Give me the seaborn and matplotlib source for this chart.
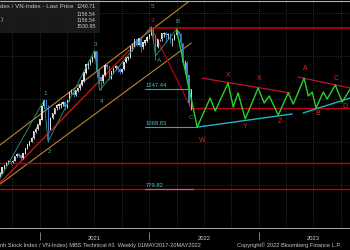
import numpy as np
import pandas as pd
import matplotlib
matplotlib.use("Agg")
import matplotlib.pyplot as plt
import matplotlib.dates as mdates
import matplotlib.transforms as mtransforms
from matplotlib.patches import Rectangle
import seaborn as sns

# ---------------- data ----------------
week_start = "2020-08-21"
week_end = "2022-05-20"
first_open = 845
close = [852, 880, 892, 902, 909, 905, 911, 935, 944, 936, 925, 946, 968, 987, 1002, 1018,
         1047, 1060, 1081, 1103, 1167, 1193, 1167, 1056, 1111, 1131, 1158, 1169, 1173, 1175,
         1186, 1161, 1191, 1231, 1232, 1218, 1239, 1250, 1263, 1285, 1321, 1359, 1364, 1381,
         1391, 1420, 1329, 1299, 1283, 1310, 1358, 1349, 1294, 1328, 1342, 1353, 1337, 1326,
         1337, 1370, 1392, 1392, 1444, 1445, 1476, 1452, 1482, 1443, 1462, 1471, 1488, 1498,
         1528, 1497, 1441, 1478, 1478, 1503, 1506, 1499, 1502, 1473, 1478, 1497, 1515, 1500,
         1459, 1366, 1366, 1310, 1182, 1240.71]
high = [860, 884, 895, 906, 914, 912, 915, 937, 948, 948, 940, 948, 970, 990, 1005, 1022,
        1050, 1068, 1084, 1106, 1170, 1195, 1191, 1170, 1115, 1135, 1160, 1175, 1180, 1185,
        1192, 1190, 1194, 1234, 1245, 1240, 1242, 1255, 1268, 1290, 1325, 1362, 1375, 1386,
        1398, 1425, 1422, 1340, 1300, 1315, 1362, 1370, 1350, 1332, 1345, 1360, 1355, 1345,
        1340, 1372, 1396, 1400, 1447, 1458, 1480, 1480, 1484, 1490, 1465, 1476, 1492, 1501,
        1536, 1530, 1500, 1480, 1480, 1506, 1512, 1510, 1505, 1505, 1482, 1500, 1524, 1518,
        1505, 1462, 1380, 1375, 1310, 1245]
low = [838, 850, 876, 886, 897, 898, 900, 910, 930, 930, 918, 922, 945, 965, 980, 998,
       1015, 1040, 1055, 1078, 1100, 1160, 1150, 1001, 1060, 1105, 1128, 1150, 1155, 1160,
       1168, 1150, 1160, 1190, 1222, 1210, 1215, 1232, 1240, 1258, 1280, 1318, 1340, 1360,
       1370, 1385, 1300, 1270, 1240, 1275, 1308, 1340, 1290, 1292, 1320, 1335, 1325, 1315,
       1320, 1335, 1368, 1380, 1390, 1425, 1440, 1445, 1450, 1420, 1430, 1450, 1465, 1480,
       1495, 1470, 1380, 1435, 1470, 1470, 1490, 1465, 1480, 1460, 1445, 1475, 1492, 1495,
       1440, 1360, 1330, 1300, 1170, 1150]

# projected wave path (B -> W X Y X Z A B C ...)
proj_dates = ["2022-04-01", "2022-06-09", "2022-07-22", "2022-08-08", "2022-09-20", "2022-10-07",
              "2022-10-23", "2022-11-16", "2022-12-29", "2023-01-18", "2023-02-04", "2023-03-06",
              "2023-04-08", "2023-04-25", "2023-05-31", "2023-06-14", "2023-06-27", "2023-07-10",
              "2023-08-03", "2023-08-16", "2023-09-12", "2023-10-05", "2023-11-07"]
proj_vals = [1524, 1068.83, 1204, 1144, 1274, 1162, 1228, 1107, 1251, 1181, 1214, 1125,
             1228, 1176, 1297, 1214, 1232, 1158, 1232, 1200, 1265, 1186, 1260]

# Elliott impulse pivots 0-1-2-3-4-5-A-B
wave_dates = ["2020-08-21", "2021-01-15", "2021-01-28", "2021-07-02", "2021-07-19",
              "2022-01-07", "2022-01-21", "2022-04-01"]
wave_vals = [830, 1195, 1001, 1425, 1240, 1536, 1400, 1524]

# wave label positions
wave_labels = ["1", "2", "3", "4", "5", "A", "B", "C"]
wave_label_dates = ["2021-01-20", "2021-01-31", "2021-07-06", "2021-07-27", "2022-01-10",
                    "2022-02-01", "2022-04-05", "2022-05-18"]
wave_label_vals = [1225, 955, 1455, 1188, 1628, 1381, 1558, 1116]

levels_teal = [1247.44, 1068.83, 779.82]
levels_red_full = [900, 779.82]
level_top = 1530.95
level_mid = 1156.54

legend_vals = ["1240.71", "1156.54", "1156.54", "1530.95"]
years = ["2021", "2022", "2023"]

red_labels = ["W", "X", "Y", "X", "Z", "A", "B", "C", "D"]
red_dates = ["2022-06-25", "2022-09-20", "2022-11-16", "2023-01-01", "2023-03-10",
             "2023-06-03", "2023-07-15", "2023-09-15", "2023-10-15"]
red_vals = [1009, 1307, 1070, 1293, 1093, 1340, 1130, 1293, 1163]

# ---------------- figure ----------------
sns.set_theme(style="dark")
plt.rcParams["font.family"] = ["Liberation Sans", "DejaVu Sans"]
fig = plt.figure(figsize=(3.5, 2.5), dpi=100, facecolor="black")
ax = fig.add_axes([0, 22 / 250, 1, 228 / 250])
ax.set_facecolor("black")

t0, t1 = pd.Timestamp("2020-08-21"), pd.Timestamp("2023-10-31")
ax.set_xlim(t0, t1)
ax.set_ylim(600, 1660)

# grid
for yv in [800, 1000, 1200, 1400, 1600]:
    ax.axhline(yv, color="#3a3a3a", lw=0.6, ls=(0, (1, 1.5)), zorder=0)
for q in pd.date_range("2020-10-01", "2023-10-01", freq="QS"):
    ax.axvline(q, color="#3a3a3a", lw=0.6, ls=(0, (1, 1.5)), zorder=0)

# candles
weeks = pd.date_range(week_start, week_end, freq="W-FRI")
opens = [first_open] + close[:-1]
df = pd.DataFrame({"date": weeks, "open": opens, "close": close, "high": high, "low": low})
up = df["close"] >= df["open"]
cols = np.where(up, "#dcdcdc", "#3a7fd5")
ax.vlines(df["date"], df["low"], df["high"], colors=cols, lw=0.6, zorder=3)
bottoms = np.minimum(df["open"], df["close"])
heights = np.abs(df["close"] - df["open"]) + 2
ax.bar(df["date"], heights, bottom=bottoms, width=4.5, color=cols, lw=0, zorder=3)


def d(s):
    return pd.Timestamp(s)


# channel lines (orange)
ax.plot([d("2020-08-21"), d("2022-05-10")], [986, 1651], color="#b8862b", lw=0.8, zorder=2)
ax.plot([d("2020-08-21"), d("2022-05-20")], [804, 1460], color="#b8862b", lw=0.8, zorder=2)

# red main trend line
ax.plot([d("2020-08-21"), d("2022-01-07")], [810, 1530.95], color="#d01010", lw=1.0, zorder=2)

# elliott lines
wd = [d(s) for s in wave_dates]
ax.plot(wd, wave_vals, color="#2a9a80", lw=0.6, zorder=4)

# horizontal levels
for v in levels_red_full:
    ax.axhline(v, color="#c00010", lw=1.0, zorder=2)
ax.plot([d("2022-01-07"), t1], [level_top, level_top], color="#c00010", lw=1.2, zorder=2)
ax.plot([d("2022-01-07"), d("2022-05-20")], [level_top, level_mid], color="#a00010", lw=1.0, zorder=2)
ax.plot([d("2022-05-20"), t1], [level_mid, level_mid], color="#c00010", lw=1.0, zorder=2)
ax.plot([d("2021-12-17"), d("2022-05-20")], [1247.44, 1247.44], color="#2fa8a8", lw=0.8, zorder=2)
ax.plot([d("2021-12-17"), d("2022-06-09")], [1068.83, 1068.83], color="#2fa8a8", lw=0.8, zorder=2)
ax.plot([d("2021-12-17"), d("2022-05-25")], [779.82, 779.82], color="#2fa8a8", lw=0.8, zorder=2)
for v in levels_teal:
    ax.text(d("2021-12-19"), v + 4, f"{v:.2f}", color="#40c4c4", fontsize=4.2,
            ha="left", va="bottom", zorder=6)

# triangle lines
ax.plot([d("2022-06-25"), d("2023-04-15")], [1297, 1228], color="#c01030", lw=0.9, zorder=4)
ax.plot([d("2023-05-11"), t1], [1302, 1251], color="#c01030", lw=0.9, zorder=4)
ax.plot([d("2022-06-09"), d("2023-04-21")], [1068.83, 1130], color="#20b4c8", lw=1.0, zorder=4)
ax.plot([d("2023-05-28"), t1], [1135, 1204], color="#20b4c8", lw=1.0, zorder=4)

# projection
pdts = [d(s) for s in proj_dates]
sns.lineplot(x=pdts, y=proj_vals, ax=ax, color="#2ad02a", lw=1.0, estimator=None, sort=False, zorder=5)

# wave labels
for n, dt, v in zip(wave_labels, wave_label_dates, wave_label_vals):
    ax.text(d(dt), v, n, color="#3aa88c", fontsize=4.5, ha="center", va="center", zorder=6)
ax.text(d("2022-01-10"), 1565, "3", color="#d02020", fontsize=4.5, ha="center", va="center", zorder=6)

for n, dt, v in zip(red_labels, red_dates, red_vals):
    ax.text(d(dt), v, n, color="#e02828", fontsize=5, ha="center", va="center", zorder=6)

# axes cosmetics
ax.set_xlabel("")
ax.set_ylabel("")
ax.set_yticks([])
for s in ["left", "right", "top"]:
    ax.spines[s].set_visible(False)
ax.spines["bottom"].set_color("#c8c8c8")
ax.spines["bottom"].set_linewidth(0.6)
ax.spines["bottom"].set_linestyle((0, (2, 1)))
ax.set_xticks([])
ax.xaxis.set_minor_locator(mdates.MonthLocator())
ax.tick_params(axis="x", which="minor", length=1.5, width=0.6, color="#e0e0e0", direction="inout")
ax.tick_params(axis="x", which="major", labelbottom=False)

bt = mtransforms.blended_transform_factory(ax.transData, fig.transFigure)
year_starts = [d("2021-01-01"), d("2022-01-01"), d("2023-01-01")]
ax.vlines(year_starts, 1 - 240 / 250, 1 - 232 / 250, colors="#909090", lw=0.6,
          transform=bt, clip_on=False)
for ys, yl in zip(year_starts, years):
    ax.text(ys + pd.Timedelta(days=182), 1 - 238 / 250, yl, color="#d0d0d0", fontsize=4.2,
            ha="center", va="center", transform=bt, clip_on=False)

# legend box
ax.add_patch(Rectangle((0, 1 - 33 / 228), 100 / 350, 33 / 228, transform=ax.transAxes,
                       facecolor="#1c1c1c", edgecolor="none", alpha=0.9, zorder=7))
ax.text(0.5 / 350, 1 - 7 / 228, "dex / VN-Index - Last Price", color="#c8c8c8", fontsize=4.4,
        ha="left", va="center", transform=ax.transAxes, zorder=8)
ax.text(0.5 / 350, 1 - 20 / 228, ")", color="#c8c8c8", fontsize=4.2,
        ha="left", va="center", transform=ax.transAxes, zorder=8)
for yy, s in zip([7, 14, 20.5, 27], legend_vals):
    ax.text(77 / 350, 1 - yy / 228, s, color="#d0d0d0", fontsize=3.8,
            ha="left", va="center", transform=ax.transAxes, zorder=8)

fig.text(0.5 / 350, 1 - 245 / 250, "nh Stock Index / VN-Index) MBS Technical #3  Weekly 01MAY2017-20MAY2022",
         color="#c8c8c8", fontsize=4.1, ha="left", va="center")
fig.text(237 / 350, 1 - 245 / 250, "Copyright\u00a9 2022 Bloomberg Finance L.P.",
         color="#c8c8c8", fontsize=4.1, ha="left", va="center")
# top frame line
fig.add_artist(plt.Line2D([0, 1], [1 - 0.5 / 250, 1 - 0.5 / 250], color="#b0b0b0", lw=0.8))

fig.savefig("out.png", dpi=100, facecolor="black")
